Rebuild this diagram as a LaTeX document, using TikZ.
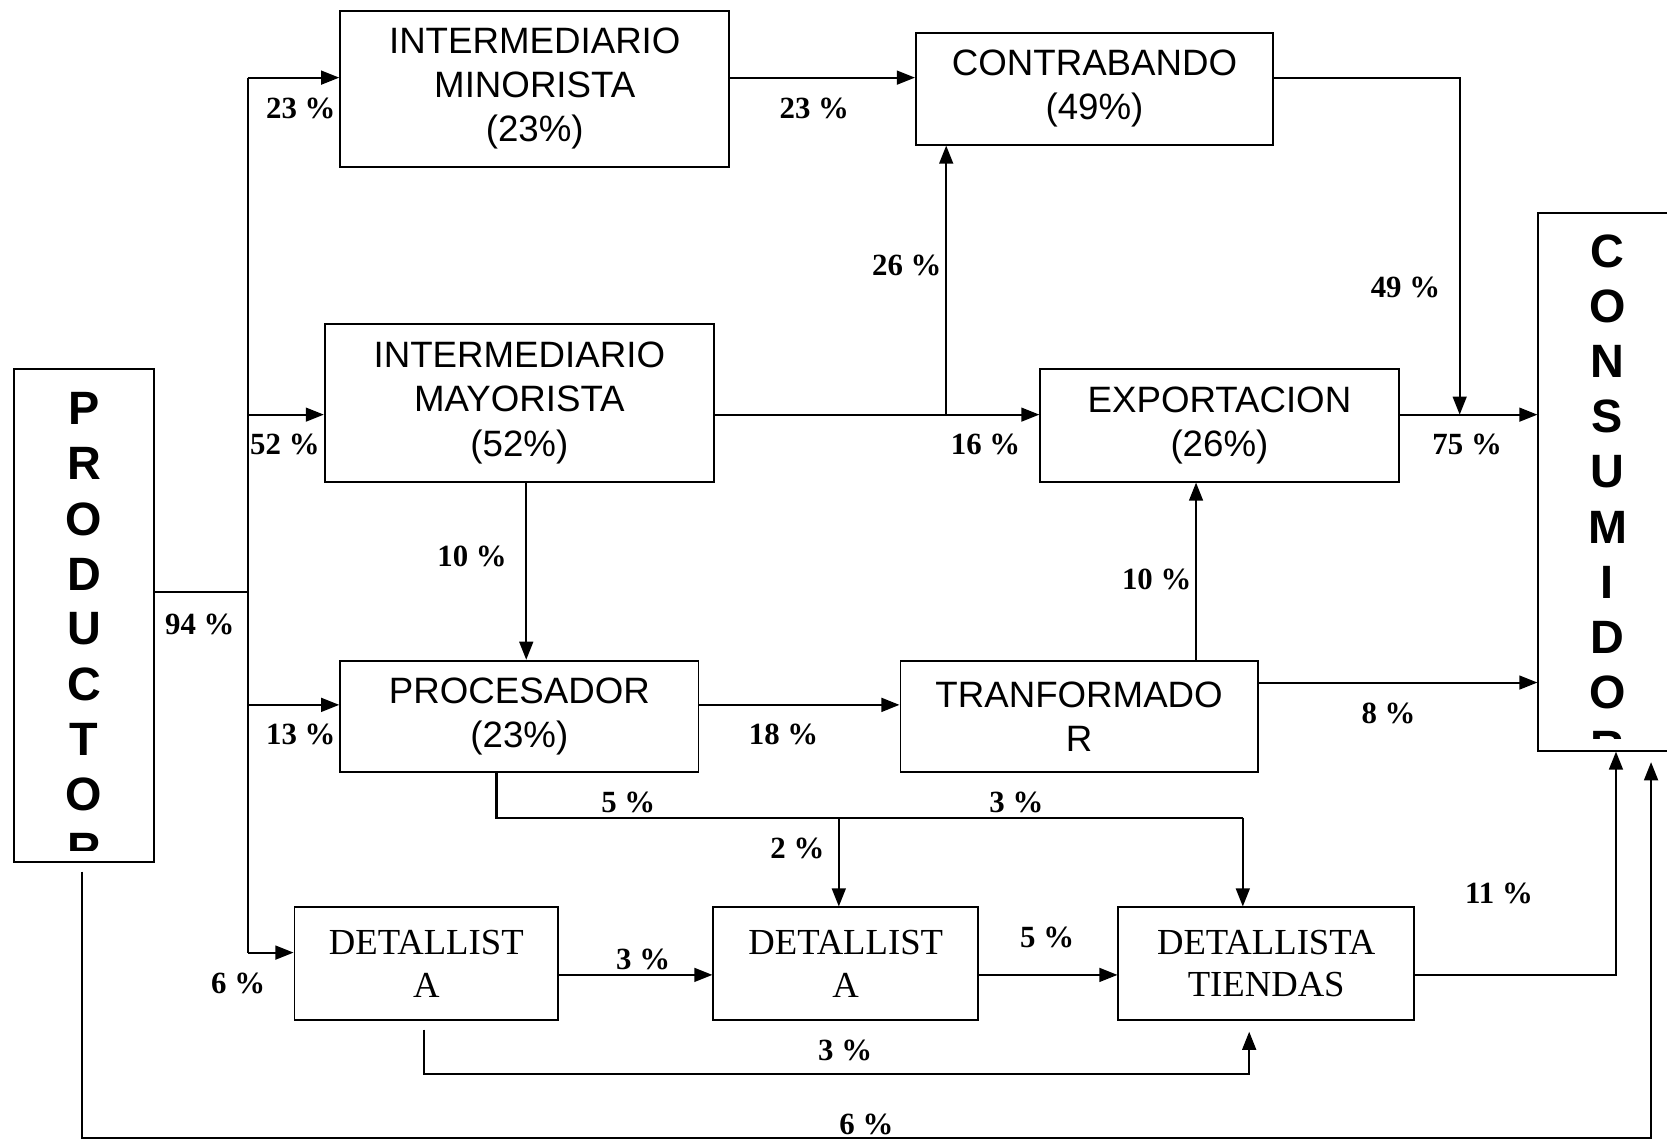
\documentclass[tikz,border=0pt]{standalone}
\usepackage{fontspec}
\setmainfont{Liberation Serif}
\setsansfont{Liberation Sans}
\usetikzlibrary{arrows.meta}

\begin{document}
\begin{tikzpicture}[x=1pt, y=-1pt, >={Triangle[length=17pt, width=13pt]},
    caja/.style={draw, line width=1.8pt, inner sep=0pt, align=center,
      font=\sffamily\fontsize{34.5}{41.5}\selectfont},
    cajat/.style={caja, font=\rmfamily\fontsize{34.5}{40}\selectfont},
    flujo/.style={->, line width=1.9pt},
    linea/.style={line width=1.9pt},
    pct/.style={font=\rmfamily\bfseries\fontsize{29}{31}\selectfont},
    letra/.style={font=\sffamily\bfseries\fontsize{44}{48}\selectfont}]

  \useasboundingbox (0,0) rectangle (1568,1072);
  \clip (0,0) rectangle (1568,1072);

  %%%%%%%%%%%%%%%%%%%%%%%%%%%%%%%%%%%%%%%%%%%%%%%%%
  % Cajas
  \node[caja, minimum width=132pt, minimum height=464pt] (prod) at (79,579) {};
  \node[caja, minimum width=130pt, minimum height=506pt] (cons) at (1512,453) {};

  \node[caja, minimum width=366pt, minimum height=147pt] (minor) at (503,83.5)
      {INTERMEDIARIO\\MINORISTA\\(23\%)};
  \node[caja, minimum width=336pt, minimum height=105pt] (contra) at (1029.5,83.5)
      {CONTRABANDO\\(49\%)};
  \node[caja, minimum width=366pt, minimum height=148pt] (mayor) at (488.5,379)
      {INTERMEDIARIO\\MAYORISTA\\(52\%)};
  \node[caja, minimum width=337pt, minimum height=106pt] (export) at (1147,400)
      {EXPORTACION\\(26\%)};
  \node[caja, minimum width=337pt, minimum height=105pt] (proc) at (488.5,674)
      {PROCESADOR\\(23\%)};
  \node[caja, minimum width=336pt, minimum height=105pt] (transf) at (1015,674)
      {TRANFORMADO\\R};
  \node[cajat, minimum width=248pt, minimum height=106pt] (det1) at (401,906.5)
      {DETALLIST\\A};
  \node[cajat, minimum width=249pt, minimum height=106pt] (det2) at (795.5,906.5)
      {DETALLIST\\A};
  \node[cajat, minimum width=278pt, minimum height=106pt] (tiendas) at (1191,906.5)
      {DETALLISTA\\TIENDAS};

  % Letras verticales
  \begin{scope}
    \clip (13,347) rectangle (145,800);
    \foreach \ch [count=\i from 0] in {P,R,O,D,U,C,T,O,R}
      \node[letra] (p\i) at (79,384.5+51.8*\i) {\ch};
  \end{scope}
  \begin{scope}
    \clip (1447,200) rectangle (1577,695);
    \foreach \ch [count=\i from 0] in {C,O,N,S,U,M,I,D,O,R}
      \node[letra] (c\i) at (1512,236.7+51.8*\i) {\ch};
  \end{scope}

  %%%%%%%%%%%%%%%%%%%%%%%%%%%%%%%%%%%%%%%%%%%%%%%%%
  % Puntos de quiebre
  \coordinate (t94) at (233,557);
  \coordinate (ttop) at (233,73);
  \coordinate (t52) at (233,390);
  \coordinate (t13) at (233,663);
  \coordinate (tbot) at (233,896);
  \coordinate (r49) at (1373,73);
  \coordinate (b26) at (890,390);
  \coordinate (x10) at (495,0);
  \coordinate (x10b) at (1125,0);
  \coordinate (y8) at (0,642);
  \coordinate (bus) at (467,769);
  \coordinate (bus2) at (789,769);
  \coordinate (bus3) at (1169,769);
  \coordinate (y3) at (0,917);
  \coordinate (e11) at (1520,917);
  \coordinate (a3) at (399,1010);
  \coordinate (b3) at (1175,1010);
  \coordinate (f6a) at (77,1070);
  \coordinate (f6b) at (1553,1070);

  % Tronco del productor
  \draw[linea] (prod.east |- t94) -- (t94);
  \draw[linea] (ttop) -- (tbot);
  \draw[flujo] (ttop) -- (minor.west |- ttop);
  \draw[flujo] (t52) -- (mayor.west |- t52);
  \draw[flujo] (t13) -- (proc.west |- t13);
  \draw[flujo] (tbot) -- (det1.west |- tbot);

  % Parte alta
  \draw[flujo] (minor.east |- ttop) -- (contra.west |- ttop);
  \draw[flujo] (contra.east |- r49) -- (r49) -- (r49 |- t52);
  \draw[flujo] (mayor.east |- t52) -- (export.west |- t52);
  \draw[flujo] (b26) -- (b26 |- contra.south);
  \draw[flujo] (export.east |- t52) -- (cons.west |- t52);
  \draw[flujo] (mayor.south -| x10) -- (proc.north -| x10);

  % Parte media
  \draw[flujo] (proc.east |- t13) -- (transf.west |- t13);
  \draw[flujo] (transf.north -| x10b) -- (export.south -| x10b);
  \draw[flujo] (transf.east |- y8) -- (cons.west |- y8);
  \draw[linea] (proc.south -| bus) -- (bus) -- (bus3);
  \draw[flujo] (bus3) -- (bus3 |- tiendas.north);
  \draw[flujo] (bus2) -- (bus2 |- det2.north);

  % Parte baja
  \draw[flujo] (det1.east |- y3) -- (det2.west |- y3);
  \draw[flujo] (det2.east |- y3) -- (tiendas.west |- y3);
  \draw[flujo] (tiendas.east |- e11) -- (e11) -- (e11 |- cons.south);
  \draw[flujo, shorten <=8pt, shorten >=10pt]
      (det1.south -| a3) -- (a3) -- (b3) -- (tiendas.south -| b3);
  \draw[flujo, shorten <=8pt, shorten >=10pt]
      (prod.south -| f6a) -- (f6a) -- (f6b) -- (f6b |- cons.south);

  %%%%%%%%%%%%%%%%%%%%%%%%%%%%%%%%%%%%%%%%%%%%%%%%%
  % Porcentajes
  \node[pct] (l94) at (188,587) {94 \%};
  \node[pct] (l23a) at (283,102) {23 \%};
  \node[pct] (l23b) at (766,102) {23 \%};
  \node[pct] (l52) at (268,418) {52 \%};
  \node[pct] (l16) at (927,418) {16 \%};
  \node[pct] (l26) at (853,250) {26 \%};
  \node[pct] (l49) at (1322,270) {49 \%};
  \node[pct] (l75) at (1380,418) {75 \%};
  \node[pct] (l10a) at (444,523) {10 \%};
  \node[pct] (l10b) at (1088,545) {10 \%};
  \node[pct] (l13) at (283,691) {13 \%};
  \node[pct] (l18) at (737,691) {18 \%};
  \node[pct] (l8) at (1306,671) {8 \%};
  \node[pct] (l5a) at (591,755) {5 \%};
  \node[pct] (l3a) at (956,755) {3 \%};
  \node[pct] (l2) at (750,798) {2 \%};
  \node[pct] (l11) at (1410,840) {11 \%};
  \node[pct] (l6a) at (224,925) {6 \%};
  \node[pct] (l3b) at (605,902) {3 \%};
  \node[pct] (l5b) at (985,882) {5 \%};
  \node[pct] (l3c) at (795,988) {3 \%};
  \node[pct] (l6b) at (815,1058) {6 \%};

\end{tikzpicture}
\end{document}
